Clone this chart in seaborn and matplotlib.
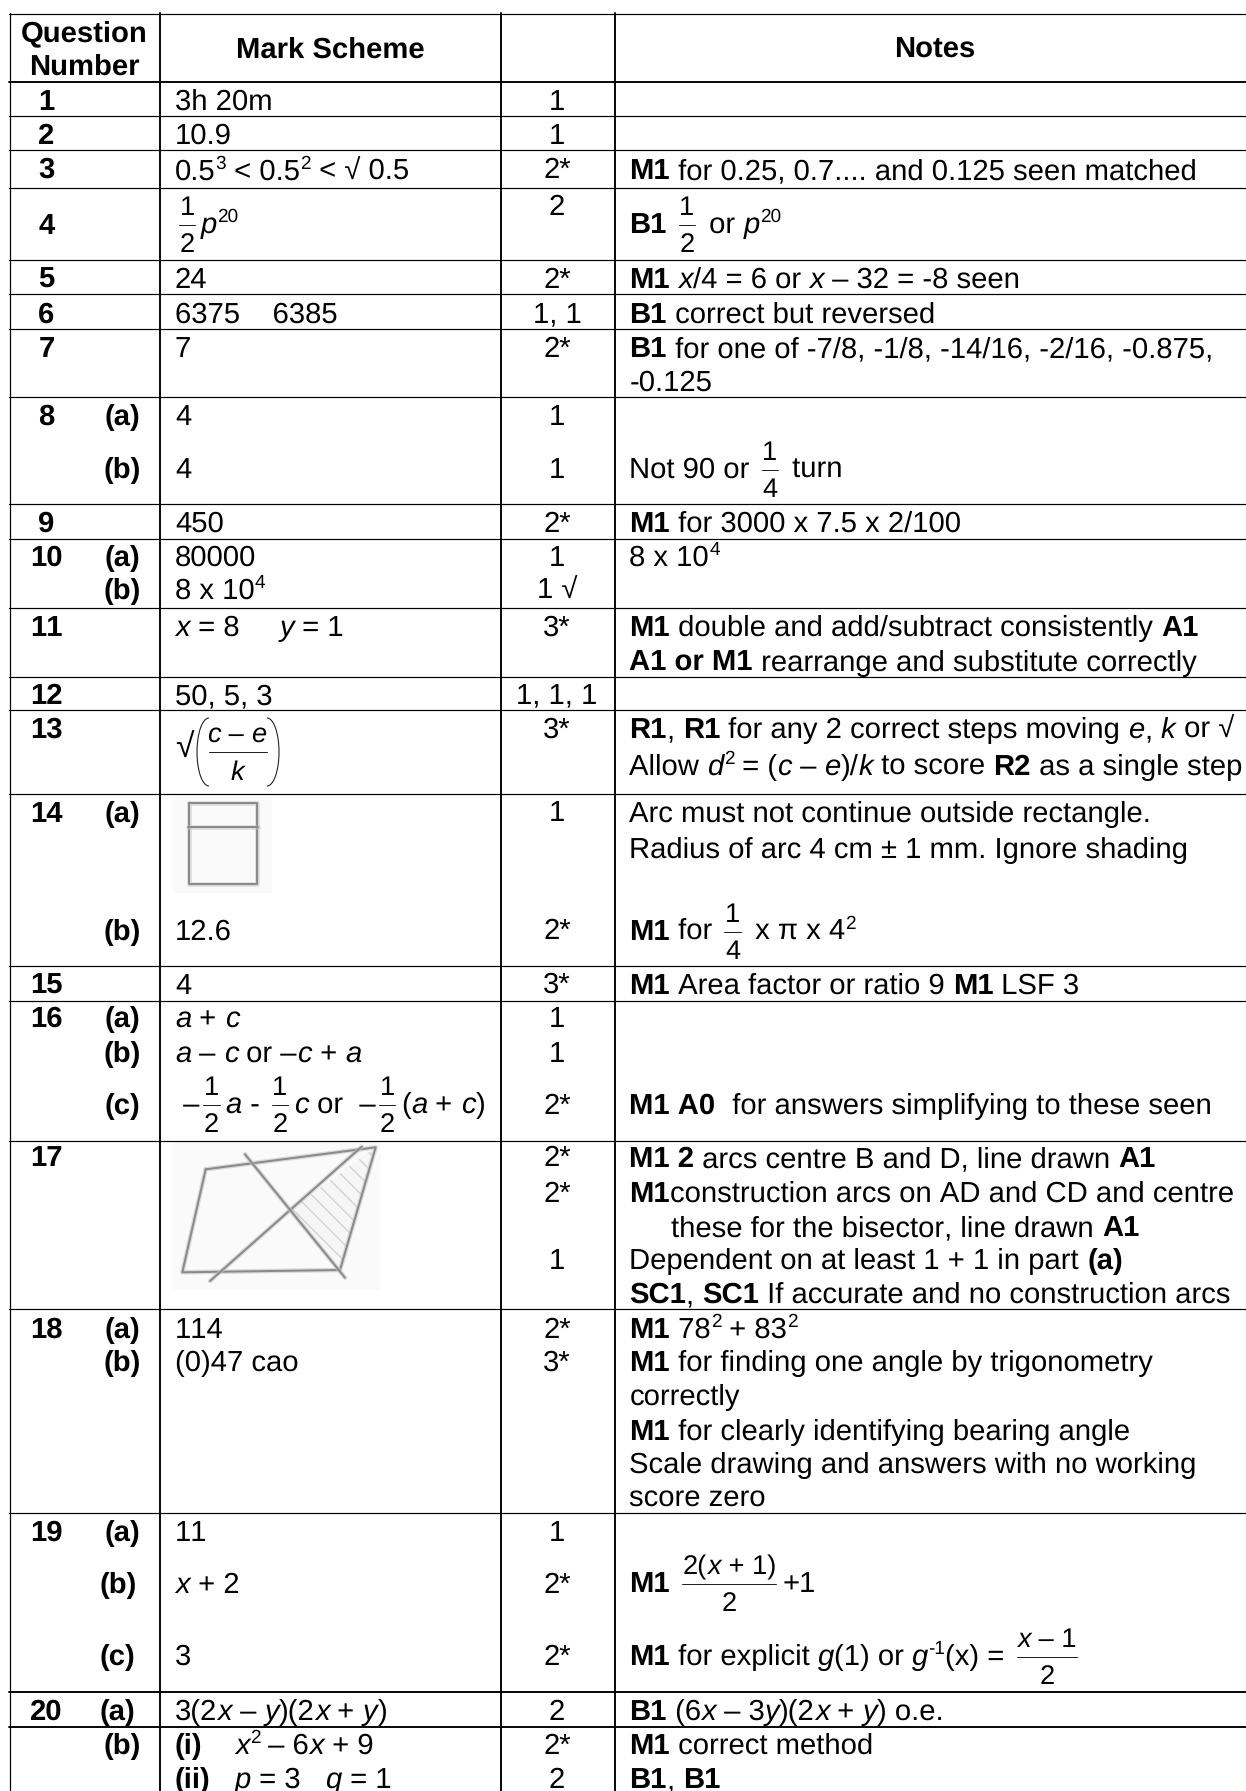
import re
import seaborn as sns
import matplotlib.pyplot as plt
from matplotlib.patches import Arc, Polygon, Rectangle

# table content, one list per column
headers = ["Question", "Number", "Mark Scheme", "Notes"]

questions = ["1", "2", "3", "4", "5", "6", "7", "8", "9", "10", "11", "12", "13", "14",
             "15", "16", "17", "18", "19", "20"]
question_y = [110, 144, 178, 234, 288, 323, 357, 425, 532, 566, 636, 704, 738, 822,
              994, 1027, 1166, 1338, 1541, 1720]

parts = ["(a)", "(b)", "(a)", "(b)", "(a)", "(b)", "(a)", "(b)", "(c)", "(a)", "(b)",
         "(a)", "(b)", "(c)", "(a)", "(b)"]
part_y = [425, 478, 566, 599, 822, 940, 1027, 1062, 1114, 1338, 1371, 1541, 1593, 1665,
          1720, 1754]
part_x = [122, 122, 122, 122, 122, 122, 122, 122, 122, 122, 122, 122, 118, 117, 117, 122]

answers = ["3h 20m", "10.9", "0.5^3^ < 0.5^2^ < √ 0.5", "[1|2]_p_^20^", "24", "6375    6385", "7",
           "4", "4", "450", "80000", "8 x 10^4^", "_x_ = 8     _y_ = 1", "50, 5, 3", "12.6", "4",
           "_a_ + _c_", "_a_ – _c_ or –_c_ + _a_",
           " –[1|2]_a_ - [1|2]_c_ or  –[1|2](_a_ + _c_)",
           "114", "(0)47 cao", "11", "_x_ + 2", "3", "3(2_x_ – _y_)(2_x_ + _y_)",
           "**(i)**    _x_^2^ – 6_x_ + 9", "**(ii)**   _p_ = 3   _q_ = 1"]
answer_y = [110, 144, 180, 233, 288, 323, 357, 425, 478, 532, 566, 599, 636, 704, 940, 994,
            1027, 1062, 1113, 1338, 1371, 1541, 1593, 1665, 1720, 1754, 1788]

marks = ["1", "1", "2*", "2", "2*", "1, 1", "2*", "1", "1", "2*", "1", "1 √", "3*", "1, 1, 1",
         "3*", "1", "2*", "3*", "1", "1", "2*", "2*", "2*", "1", "2*", "3*", "1", "2*", "2*",
         "2", "2*", "2"]
mark_y = [110, 144, 178, 215, 288, 323, 357, 425, 478, 532, 566, 599, 636, 704, 738, 821, 939,
          993, 1027, 1062, 1114, 1166, 1202, 1269, 1338, 1371, 1541, 1593, 1665, 1720, 1754, 1788]

notes = ["**M1** for 0.25, 0.7.... and 0.125 seen matched",
         "**B1** [1|2] or _p_^20^",
         "**M1** _x_/4 = 6 or _x_ – 32 = -8 seen",
         "**B1** correct but reversed",
         "**B1** for one of -7/8, -1/8, -14/16, -2/16, -0.875,",
         "-0.125",
         "Not 90 or [1|4] turn",
         "**M1** for 3000 x 7.5 x 2/100",
         "8 x 10^4^",
         "**M1** double and add/subtract consistently **A1**",
         "**A1 or M1** rearrange and substitute correctly",
         "**R1**, **R1** for any 2 correct steps moving _e_, _k_ or √",
         "Allow _d_^2^ = (_c_ – _e_)/_k_ to score **R2** as a single step",
         "Arc must not continue outside rectangle.",
         "Radius of arc 4 cm ± 1 mm. Ignore shading",
         "**M1** for [1|4] x π x 4^2^",
         "**M1** Area factor or ratio 9 **M1** LSF 3",
         "**M1 A0**  for answers simplifying to these seen",
         "**M1 2** arcs centre B and D, line drawn **A1**",
         "**M1**construction arcs on AD and CD and centre",
         "these for the bisector, line drawn **A1**",
         "Dependent on at least 1 + 1 in part **(a)**",
         "**SC1**, **SC1** If accurate and no construction arcs",
         "**M1** 78^2^ + 83^2^",
         "**M1** for finding one angle by trigonometry",
         "correctly",
         "**M1** for clearly identifying bearing angle",
         "Scale drawing and answers with no working",
         "score zero",
         "**M1** [2(_x_ + 1)|2]+1",
         "**M1** for explicit _g_(1) or _g_^-1^(x) = [_x_ – 1|2]",
         "**B1** (6_x_ – 3_y_)(2_x_ + _y_) o.e.",
         "**M1** correct method",
         "**B1**, **B1**"]
note_y = [179, 233, 288, 323, 357, 391, 478, 532, 566, 636, 671, 738, 775, 822, 858, 940, 994,
          1114, 1167, 1202, 1236, 1269, 1303, 1338, 1371, 1405, 1440, 1473, 1506, 1592, 1665,
          1720, 1754, 1788]

# ruled lines of the table: (y, width in px)
rows = [(13.5, 1.2), (81.5, 1.9), (116.3, 1.2), (150.4, 1.2), (187.5, 1.2), (260.2, 1.2),
        (294.3, 1.2), (329, 1.2), (397, 1.2), (503.6, 1.2), (538.5, 1.2), (608.4, 1.2),
        (676.5, 1.2), (710, 1.2), (794.4, 1.2), (965.5, 1.2), (1000.7, 1.2), (1140.7, 1.2),
        (1309, 1.2), (1512.5, 1.2), (1691.6, 1.9), (1726.8, 1.9)]
cols = [(9.5, 1.2), (160, 1.9), (501, 1.9), (614.6, 1.9)]

# the two scanned sketches
rect_box = [(189, 802.7), (256.7, 802.7), (256.7, 884.3), (189, 884.3), (189, 802.7)]
rect_mid = [(188, 826.7), (257.5, 826.7)]
para_box = [(205.7, 1169.3), (375.7, 1147.3), (340, 1270), (182.3, 1272.3), (205.7, 1169.3)]
para_diag = [(361.7, 1146.7), (210, 1281)]
para_bisect = [(245, 1154.3), (345, 1277.7)]
para_shade = [(375.7, 1147.3), (340, 1270), (291, 1209)]

FS = 21.1
sns.set_theme(style="white")
plt.rcParams['font.family'] = ['Liberation Sans', 'DejaVu Sans']
plt.rcParams['text.hinting'] = 'none'
plt.rcParams['text.kerning_factor'] = 6
plt.rcParams['hatch.linewidth'] = 1.0

fig = plt.figure(figsize=(12.46, 17.91), dpi=100)
ax = fig.add_axes([0, 0, 1, 1])
ax.set_xlim(0, 1246)
ax.set_ylim(1791, 0)
ax.axis("off")
renderer = fig.canvas.get_renderer()

TOKEN = re.compile(r"\*\*(.+?)\*\*|_(.+?)_|\^(.+?)\^|\[(.+?)\|(.+?)\]")


def rule(points, px=1.2, color="black", alpha=1):
    xs, ys = zip(*points)
    sns.lineplot(x=list(xs), y=list(ys), color=color, lw=px * 0.72, alpha=alpha,
                 estimator=None, sort=False, legend=False, ax=ax)


def text_width(s, size, **font):
    a = ax.text(0, 0, "|" + s + "|", fontsize=size, **font)
    b = ax.text(0, 0, "||", fontsize=size, **font)
    w = a.get_window_extent(renderer).width - b.get_window_extent(renderer).width
    a.remove()
    b.remove()
    return w


def split_runs(s):
    pos = 0
    out = []
    for m in TOKEN.finditer(s):
        if m.start() > pos:
            out.append(("plain", s[pos:m.start()]))
        if m.group(1):
            out.append(("bold", m.group(1)))
        elif m.group(2):
            out.append(("italic", m.group(2)))
        elif m.group(3):
            out.append(("sup", m.group(3)))
        else:
            out.append(("frac", m.group(4), m.group(5)))
        pos = m.end()
    if pos < len(s):
        out.append(("plain", s[pos:]))
    return out


def put(x, y, s, size=FS, draw=True, weight="normal"):
    # writes marked up text from x on baseline y, gives back the x where it ends
    for run in split_runs(s):
        kind = run[0]
        if kind == "frac":
            fs = size * 0.93
            wn = put(0, 0, run[1], fs, draw=False)
            wd = put(0, 0, run[2], fs, draw=False)
            wb = max(wn, wd) + 1
            if draw:
                put(x + 4 + (wb - wn) / 2, y - 18, run[1], fs)
                put(x + 4 + (wb - wd) / 2, y + 19, run[2], fs)
                rule([(x + 4, y - 8), (x + 4 + wb, y - 8)], 1, "#222222")
            x += wb + 10
            continue
        font = {"fontweight": weight}
        fs = size
        dy = 0
        if kind == "bold":
            font["fontweight"] = "bold"
        elif kind == "italic":
            font["fontstyle"] = "italic"
        elif kind == "sup":
            fs = size * 0.65
            dy = -11
        if draw:
            ax.text(x, y + dy, run[1], fontsize=fs, va="baseline", ha="left", color="black", **font)
        x += text_width(run[1], fs, **font)
    return x


def put_center(cx, y, s, size=FS, weight="normal"):
    w = put(0, 0, s, size, draw=False, weight=weight)
    put(cx - w / 2, y, s, size, weight=weight)


# rules
for y, px in rows:
    rule([(9, y), (1246, y)], px)
for x, px in cols:
    rule([(x, 13), (x, 1791)], px)

# headers
put_center(84, 41, headers[0], weight="bold")
put_center(84, 74.6, headers[1], weight="bold")
put_center(330, 57.4, headers[2], weight="bold")
put_center(935, 57.4, headers[3], weight="bold")

# body columns
for label, y in zip(questions, question_y):
    put_center(46.5, y, label, weight="bold")
for label, y, x in zip(parts, part_y, part_x):
    put_center(x, y, label, weight="bold")
for label, y in zip(answers, answer_y):
    put(175, y, label)
for label, y in zip(marks, mark_y):
    put_center(557, y, label)
for label, y in zip(notes, note_y):
    put(671 if label.startswith("these") else 629.4, y, label)

# question 13 answer, a root over a bracketed fraction
put(175, 758, "√", FS * 1.15)
put_center(237, 742, "_c_ – _e_", FS * 0.93)
put_center(237, 780, "_k_", FS * 0.93)
rule([(208.6, 752.3), (267, 752.3)], 1, "#222222")
ax.add_patch(Arc((209, 752), 24, 68, theta1=90, theta2=270, lw=0.8, color="#222222"))
ax.add_patch(Arc((267, 752), 24, 68, theta1=-90, theta2=90, lw=0.8, color="#222222"))

# sketches, wide pale stroke under a darker one to look scanned
ax.add_patch(Rectangle((173, 797), 99, 96, fc="#fafafa", ec="none", zorder=0))
ax.add_patch(Rectangle((173, 1142), 208, 148, fc="#fafafa", ec="none", zorder=0))
ax.add_patch(Polygon(para_shade, fc="#f6f6f6", ec="#d2d2d2", lw=0, hatch="\\\\", zorder=0.5))
for line in [rect_box, rect_mid, para_box, para_diag, para_bisect]:
    rule(line, 4.5, "#c4c4c4", 0.6)
    rule(line, 2, "#8a8a8a")

plt.savefig("out.png", dpi=100)
plt.close()
